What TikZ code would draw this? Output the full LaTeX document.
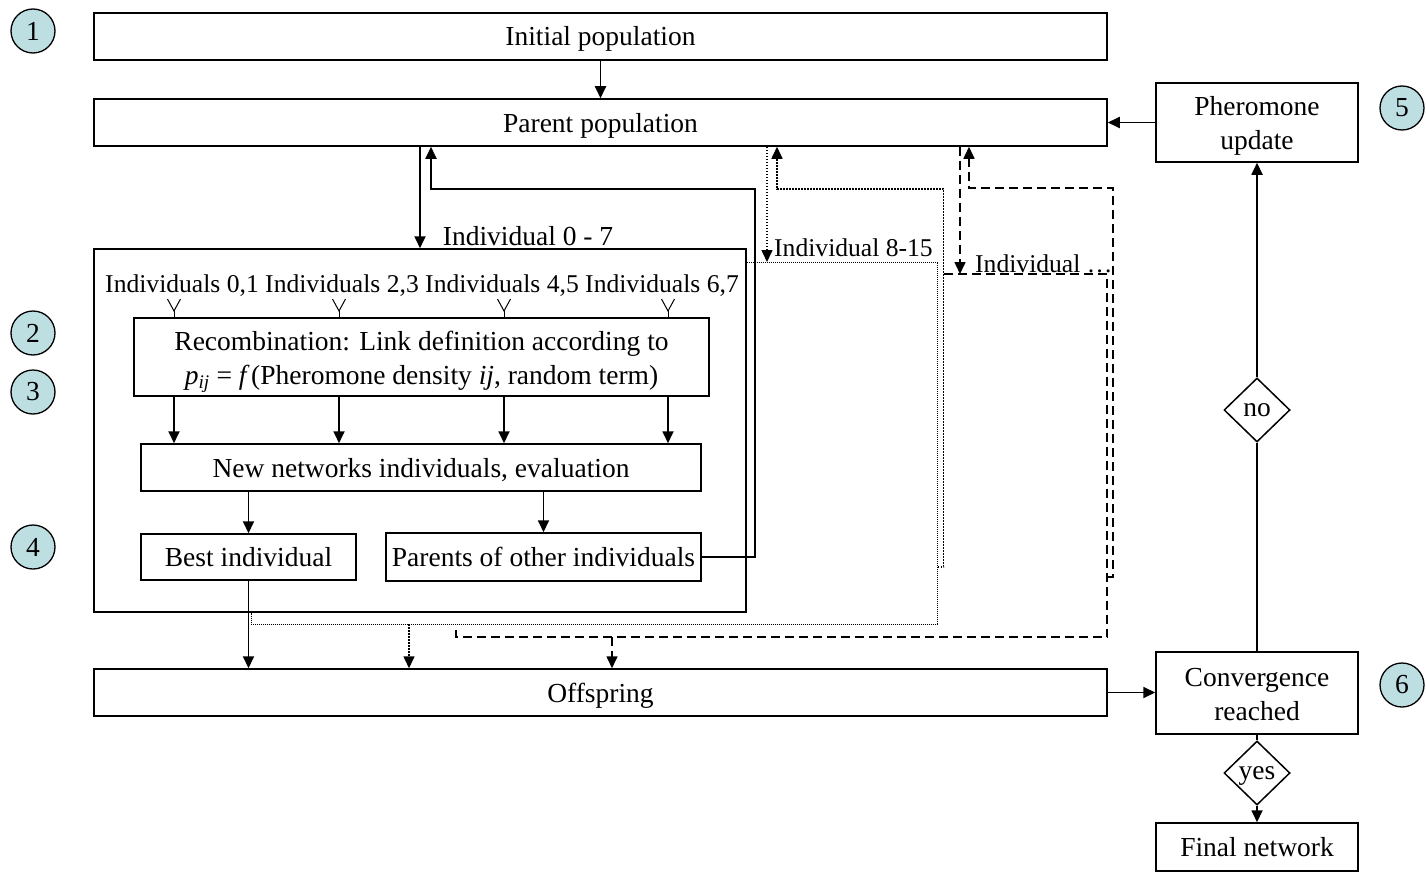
\documentclass[tikz,border=0pt]{standalone}
\usepackage{fontspec}
\setmainfont{Liberation Serif}
\usetikzlibrary{arrows.meta,shapes.geometric}
\definecolor{badgefill}{HTML}{BEDFE1}
% two centred lines, first baseline a fixed distance above the node centre
\newcommand\twolines[2]{\raisebox{6.5pt}[0pt][0pt]{\begin{tabular}[t]{@{}c@{}}#1\\#2\end{tabular}}}
\begin{document}
\begin{tikzpicture}[x=1pt,y=-1pt,
  font=\fontsize{27.5}{34}\selectfont,
  box/.style={draw, line width=1.5pt, inner sep=0pt, align=center},
  oneline/.style={box, text height=25pt, text depth=6pt},
  smalltext/.style={font=\fontsize{25.6}{30}\selectfont},
  arrowend/.style={-{Triangle[length=12pt,width=11pt]}},
  ln/.style={line width=1.8pt},
  arr/.style={ln, arrowend},
  dotln/.style={line width=1.6pt, dash pattern=on 1.6pt off 1.4pt},
  dotthin/.style={line width=1pt, dash pattern=on 1pt off 1pt},
  dashln/.style={line width=1.6pt, dash pattern=on 9pt off 5pt},
  badge/.style={circle, draw, line width=1.3pt, fill=badgefill, minimum size=44pt, inner sep=0pt},
  dec/.style={diamond, draw, line width=1.5pt, minimum width=66pt, minimum height=64pt, inner sep=0pt,
              text height=16pt, text depth=3pt},
]
\useasboundingbox (0,0) rectangle (1426,872);

% main flow boxes
\node[oneline, minimum width=1013pt, minimum height=47pt] (init) at (600.5,36.5) {Initial population};
\node[oneline, minimum width=1013pt, minimum height=47pt] (parent) at (600.5,122.5) {Parent population};
\node[box, minimum width=652pt, minimum height=363pt] (group) at (420,430.5) {};
\node[box, minimum width=575pt, minimum height=78pt] (recomb) at (421.5,357)
  {\twolines{Recombination: Link definition according to}
   {{\itshape p}\textsubscript{\itshape ij} = {\itshape f}\,(Pheromone density {\itshape ij}, random term)}};
\node[oneline, minimum width=560pt, minimum height=47pt] (newnet) at (421,467.5) {New networks individuals, evaluation};
\node[oneline, minimum width=215pt, minimum height=46pt] (best) at (248.5,557) {Best individual};
\node[oneline, minimum width=315pt, minimum height=48pt] (others) at (543.5,557) {Parents of other individuals};
\node[oneline, minimum width=1013pt, minimum height=47pt] (offspring) at (600.5,692.5) {Offspring};

% right column
\node[box, minimum width=202pt, minimum height=79pt] (pher) at (1257,122.5) {\twolines{Pheromone}{update}};
\node[box, minimum width=202pt, minimum height=82pt] (conv) at (1257,693) {\twolines{Convergence}{reached}};
\node[oneline, minimum width=202pt, minimum height=48pt] (final) at (1257,847) {Final network};
\node[dec] (no) at (1257,410) {no};
\node[dec] (yes) at (1257,773) {yes};

% labels
\node (lab07) at (528,236) {Individual 0 - 7};
\node[smalltext, anchor=west, inner sep=0pt] (lab815) at (774,248) {Individual 8-15};
\node[smalltext, anchor=west, inner sep=0pt] (labdots) at (975,264) {Individual \ldots};
\node[smalltext] (indrow) at (422,286) {Individuals 0,1 Individuals 2,3 Individuals 4,5 Individuals 6,7};

% step badges
\node[badge] (b1) at (33,31) {1};
\node[badge] (b2) at (33,333) {2};
\node[badge] (b3) at (33,392) {3};
\node[badge] (b4) at (33,547) {4};
\node[badge] (b5) at (1402,108) {5};
\node[badge] (b6) at (1402,685) {6};

% group 0-7 (solid)
\coordinate (cA) at (420,0);
\coordinate (cB) at (431,189);
\coordinate (cC) at (755,189);
\draw[arr] (init) -- (parent);
\draw[arr] (parent.south -| cA) -- (group.north -| cA);
\draw[arr] (others.east) -| (cC) -- (cB) -- (cB |- parent.south);

\foreach \xx [count=\k] in {174,339,504,668} {
  \coordinate (v\k) at (\xx,311);
  \draw[line width=1pt] (v\k) ++(-6.5,-12) -- (v\k) -- ++(6.5,-12);
  \draw[line width=1pt] (v\k) -- (v\k |- recomb.north);
  \draw[arr] (recomb.south -| v\k) -- (newnet.north -| v\k);
}
\draw[arr] (newnet.south -| best.north) -- (best.north);
\draw[arr] (newnet.south -| others.north) -- (others.north);
\draw[arr] (best.south) -- (offspring.north -| best.south);

% group 8-15 (dotted)
\coordinate (dtl) at (251,262);
\coordinate (dbr) at (937.5,624);
\coordinate (cD) at (767,0);
\coordinate (cE) at (409,0);
\coordinate (cF) at (943.5,567);
\coordinate (cG) at (777,189);
\draw[dotthin] (group.east |- dtl) -- (dtl -| dbr) -- (dbr) -- (dtl |- dbr) -- (group.south -| dtl);
\draw[dotln, arrowend] (parent.south -| cD) -- (cD |- dtl);
\draw[dotln, arrowend] (cE |- dbr) -- (offspring.north -| cE);
\draw[dotln, arrowend] (dbr |- cF) -- (cF) -- (cF |- cG) -- (cG) -- (cG |- parent.south);

% further groups (dashed)
\coordinate (etl) at (456,274);
\coordinate (ebr) at (1107,637);
\coordinate (cH) at (960,0);
\coordinate (cI) at (612,0);
\coordinate (cJ) at (1113,577);
\coordinate (cK) at (969,188);
\draw[dashln] (cF |- etl) -- (etl -| ebr) -- (ebr) -- (etl |- ebr) -- ++(0,-9);
\draw[dashln, arrowend] (parent.south -| cH) -- (cH |- etl);
\draw[dashln, arrowend] (cI |- ebr) -- (offspring.north -| cI);
\draw[dashln, arrowend] (ebr |- cJ) -- (cJ) -- (cJ |- cK) -- (cK) -- (cK |- parent.south);

% convergence loop
\draw[arr] (pher.west) -- (parent.east);
\draw[arr] (offspring.east) -- (offspring.east -| conv.west);
\draw[ln] (conv.north) -- (no.south);
\draw[arr] (no.north) -- (pher.south);
\draw[ln] (conv.south) -- (yes.north);
\draw[arr] (yes.south) -- (final.north);
\end{tikzpicture}
\end{document}
